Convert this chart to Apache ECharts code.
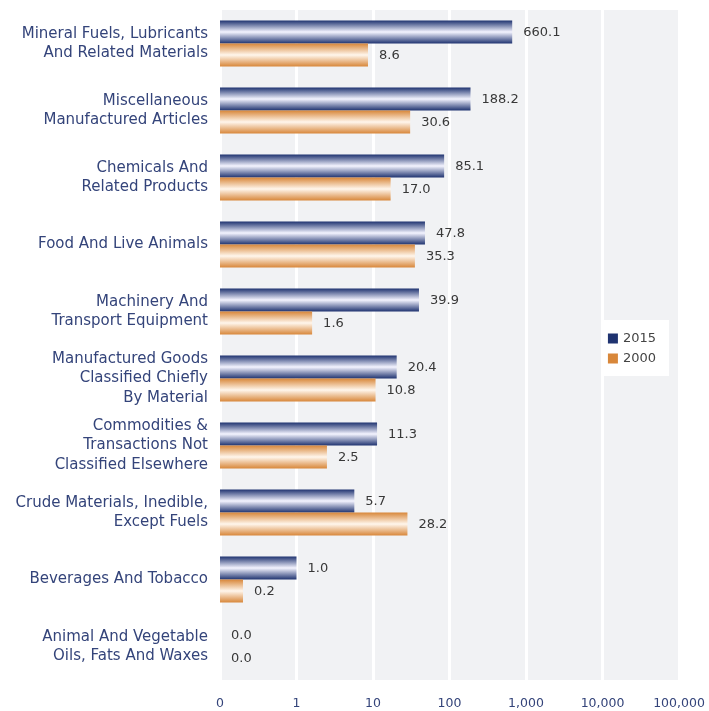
<!DOCTYPE html>
<html>
<head>
<meta charset="utf-8">
<script src="https://cdn.jsdelivr.net/npm/echarts@6/dist/echarts.min.js"></script>
<style>
  html, body { margin: 0; padding: 0; background: #ffffff; }
  #chart { width: 709px; height: 711px; }
</style>
</head>
<body>
<div id="chart"></div>
<script>
// Product groups, top to bottom
const categories = [
  'Mineral Fuels, Lubricants\nAnd Related Materials',
  'Miscellaneous\nManufactured Articles',
  'Chemicals And\nRelated Products',
  'Food And Live Animals',
  'Machinery And\nTransport Equipment',
  'Manufactured Goods\nClassified Chiefly\nBy Material',
  'Commodities &\nTransactions Not\nClassified Elsewhere',
  'Crude Materials, Inedible,\nExcept Fuels',
  'Beverages And Tobacco',
  'Animal And Vegetable\nOils, Fats And Waxes'
];

const values2015 = [660.1, 188.2, 85.1, 47.8, 39.9, 20.4, 11.3, 5.7, 1.0, 0.04];
const values2000 = [8.6, 30.6, 17.0, 35.3, 1.6, 10.8, 2.5, 28.2, 0.2, 0.01];

const axisMin = 0.1;
const axisMax = 100000;

const navy = '#1f3370';
const orange = '#d8873a';
const font = 'DejaVu Sans';
const BAR_H = 23;

function barGradient(edge, mid) {
  return new echarts.graphic.LinearGradient(0, 0, 0, 1, [
    { offset: 0, color: edge },
    { offset: 0.5, color: mid },
    { offset: 1, color: edge }
  ]);
}

// Horizontal bars that grow from the left end of the log axis,
// with the value written just past the bar end.
// side = -1 puts the bar above the band centre, +1 below it.
function barSeries(name, values, edge, mid, side) {
  const fill = barGradient(edge, mid);
  return {
    name: name,
    type: 'custom',
    itemStyle: { color: edge },
    encode: { x: 1, y: 0 },
    data: values.map((v, i) => [i, v]),
    renderItem: function (params, api) {
      const i = api.value(0);
      const v = api.value(1);
      const start = api.coord([axisMin, i]);
      const end = api.coord([v, i]);
      const x0 = start[0];
      const x1 = Math.max(end[0], x0);
      const y = side < 0 ? start[1] - BAR_H : start[1];
      return {
        type: 'group',
        children: [
          {
            type: 'rect',
            shape: { x: x0, y: y, width: x1 - x0, height: BAR_H },
            style: { fill: fill }
          },
          {
            type: 'text',
            x: x1 + 11,
            y: y + BAR_H / 2 + 0.5,
            style: {
              text: v.toFixed(1),
              fill: '#383838',
              fontSize: 13,
              fontFamily: font,
              verticalAlign: 'middle',
              align: 'left'
            }
          }
        ]
      };
    }
  };
}

const chart = echarts.init(document.getElementById('chart'));

chart.setOption({
  animation: false,
  textStyle: { fontFamily: font },
  grid: {
    left: 220, right: 30, top: 10, bottom: 31,
    show: true, backgroundColor: '#f1f2f4', borderWidth: 0,
    containLabel: false
  },
  legend: {
    orient: 'vertical',
    right: 40,
    top: 320,
    backgroundColor: '#ffffff',
    padding: [12, 13, 11, 5],
    itemWidth: 10,
    itemHeight: 10,
    itemGap: 7,
    icon: 'rect',
    textStyle: { color: '#444444', fontSize: 13, fontFamily: font },
    data: ['2015', '2000']
  },
  xAxis: {
    type: 'log',
    logBase: 10,
    min: axisMin,
    max: axisMax,
    splitNumber: 6,
    axisLine: { show: false },
    axisTick: { show: false },
    splitLine: { show: true, lineStyle: { color: '#ffffff', width: 3 } },
    axisLabel: {
      color: '#34447a',
      fontSize: 12.5,
      margin: 17,
      formatter: function (v) {
        if (v < 1) return '0';
        return Math.round(v).toLocaleString('en-US');
      }
    }
  },
  yAxis: {
    type: 'category',
    inverse: true,
    data: categories,
    axisLine: { show: false },
    axisTick: { show: false },
    splitLine: { show: false },
    axisLabel: {
      color: '#34447a',
      fontSize: 15,
      lineHeight: 19.5,
      margin: 12,
      align: 'right'
    }
  },
  series: [
    barSeries('2015', values2015, navy, '#f4f4ff', -1),
    barSeries('2000', values2000, orange, '#fff6ec', 1)
  ]
});
</script>
</body>
</html>
